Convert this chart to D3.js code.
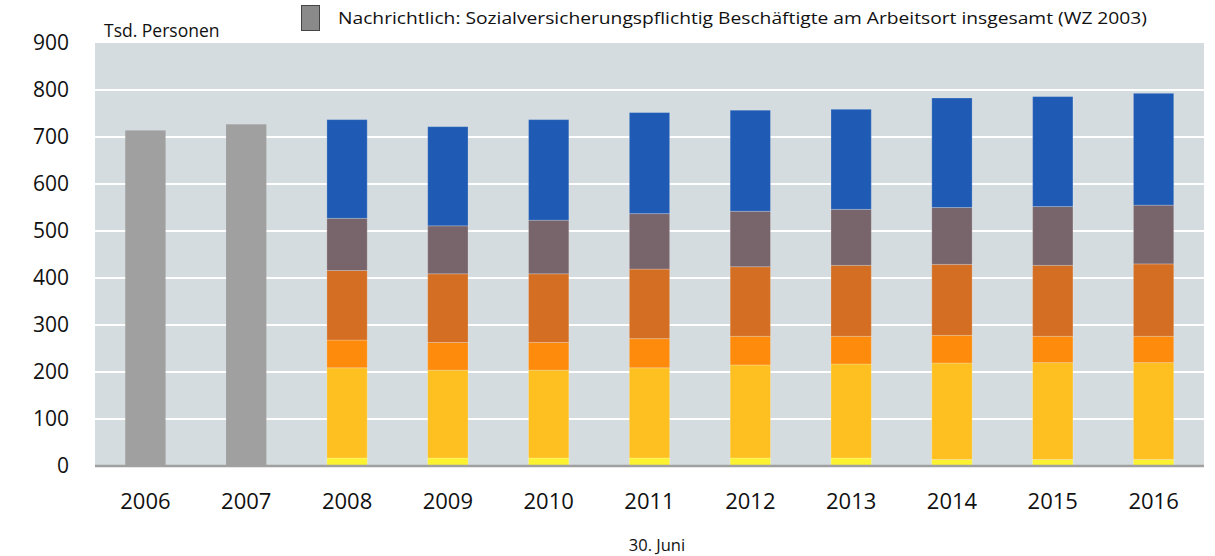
<!DOCTYPE html>
<html><head><meta charset="utf-8">
<script src="https://cdn.jsdelivr.net/npm/d3@7"></script>
<style>body{margin:0;background:#fff}svg{display:block}text{font-family:"Open Sans",sans-serif;fill:#111}</style>
</head><body>
<svg id="c" width="1215" height="556"></svg>
<script>
const years = ["2006","2007","2008","2009","2010","2011","2012","2013","2014","2015","2016"];
const totalWZ2003 = [714, 727, null, null, null, null, null, null, null, null, null];
const s1 = [0, 0, 17, 17, 17, 17, 17, 17, 14, 14, 14];
const s2 = [0, 0, 192, 187, 187, 192, 198, 200, 205, 206, 206];
const s3 = [0, 0, 59, 59, 59, 62, 61, 59, 59, 56, 56];
const s4 = [0, 0, 148, 146, 146, 148, 148, 151, 151, 151, 154];
const s5 = [0, 0, 111, 102, 114, 118, 118, 119, 121, 125, 125];
const s6 = [0, 0, 210, 211, 214, 215, 215, 213, 233, 234, 238];
const seriesColors = ["#fdf22f", "#fec020", "#fe8b0c", "#d36e22", "#78646b", "#1f5bb4"];
const yTicks = [0, 100, 200, 300, 400, 500, 600, 700, 800, 900];
const legendLabel = "Nachrichtlich: Sozialversicherungspflichtig Beschäftigte am Arbeitsort insgesamt (WZ 2003)";
const yUnit = "Tsd. Personen";
const xTitle = "30. Juni";

const svg = d3.select("#c");
const L = 95, R = 1204, T = 43, B = 466;
const x = d3.scaleBand().domain(years).range([L, R]).paddingInner(0.6).paddingOuter(0.3);
const y = d3.scaleLinear().domain([0, 900]).range([B, T]);

svg.append("rect").attr("x", L).attr("y", T).attr("width", R - L).attr("height", B - T).attr("fill", "#d4dcdf");
svg.append("g").selectAll("line").data(yTicks.filter(d => d > 0 && d < 900)).join("line")
  .attr("x1", L).attr("x2", R).attr("y1", d => y(d)).attr("y2", d => y(d))
  .attr("stroke", "#fff").attr("stroke-width", 2);

// gray total bars
svg.append("g").selectAll("rect").data(years.map((yr, i) => ({yr, v: totalWZ2003[i]})).filter(d => d.v != null)).join("rect")
  .attr("x", d => x(d.yr)).attr("width", x.bandwidth())
  .attr("y", d => y(d.v)).attr("height", d => y(0) - y(d.v)).attr("fill", "#a0a0a0");

// stacked bars
const series = [s1, s2, s3, s4, s5, s6];
const rows = years.map((yr, i) => {
  const o = {yr}; series.forEach((s, k) => o["k" + k] = s[i]); return o;
});
const stack = d3.stack().keys(series.map((s, k) => "k" + k))(rows);
svg.append("g").selectAll("g").data(stack).join("g").attr("fill", (d, k) => seriesColors[k])
  .selectAll("rect").data(d => d.filter(p => p[1] > p[0])).join("rect")
  .attr("x", d => x(d.data.yr)).attr("width", x.bandwidth())
  .attr("y", d => y(d[1])).attr("height", d => y(d[0]) - y(d[1]))
  .attr("stroke", "rgba(255,255,255,0.22)").attr("stroke-width", 1);

// baseline
svg.append("line").attr("x1", L).attr("x2", R).attr("y1", B).attr("y2", B).attr("stroke", "#a0a0a0").attr("stroke-width", 2.5);

// y axis
const ya = svg.append("g").attr("transform", `translate(${L},0)`).call(d3.axisLeft(y).tickValues(yTicks).tickSize(0).tickPadding(26));
ya.select(".domain").remove();
ya.selectAll("text").style("font-family", '"Open Sans",sans-serif').style("font-size", "21px").attr("fill", "#111");

// x axis
const xa = svg.append("g").attr("transform", `translate(0,${B})`).call(d3.axisBottom(x).tickSize(0).tickPadding(27));
xa.select(".domain").remove();
xa.selectAll("text").style("font-family", '"Open Sans",sans-serif').style("font-size", "22px").attr("fill", "#111");

svg.append("text").attr("x", 104).attr("y", 37).style("font-size", "17.5px").text(yUnit);
svg.append("text").attr("x", 657).attr("y", 551).attr("text-anchor", "middle").style("font-size", "16.5px").text(xTitle);

// legend
svg.append("rect").attr("x", 301.5).attr("y", 5.5).attr("width", 18).attr("height", 25).attr("fill", "#8a8a8a").attr("stroke", "#444").attr("stroke-width", 1);
svg.append("text").attr("x", 338).attr("y", 24).style("font-size", "17px").attr("textLength", 809).attr("lengthAdjust", "spacingAndGlyphs").text(legendLabel);
</script>
</body></html>
